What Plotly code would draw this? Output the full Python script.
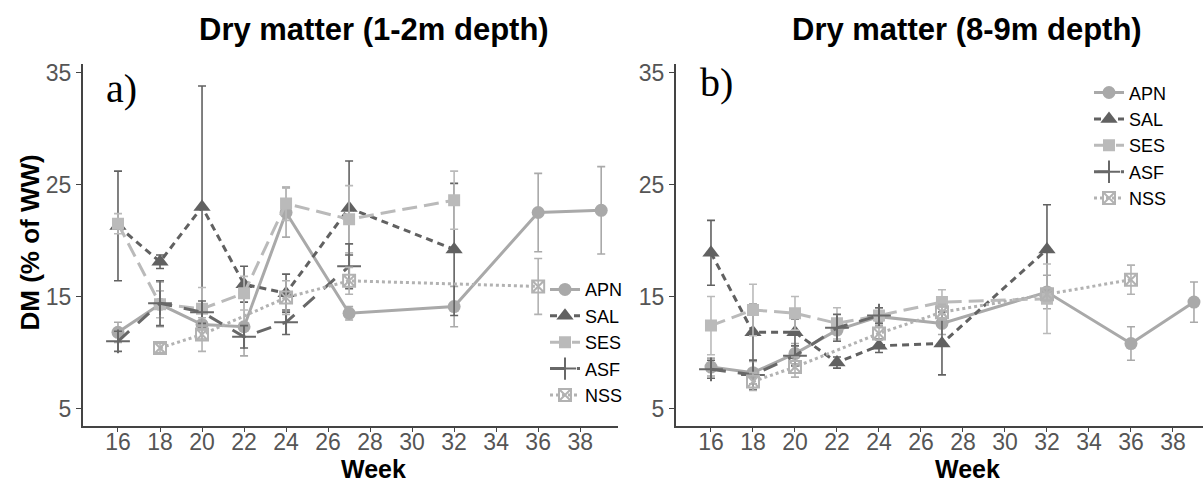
import plotly.graph_objects as go

W, H = 1203, 483

series_names = ["APN", "SAL", "SES", "ASF", "NSS"]

# ---- Panel a) 1-2 m depth ----
a_apn_wk = [16, 18, 20, 22, 24, 27, 32, 36, 39]
a_apn_val = [11.8, 14.3, 12.5, 12.3, 22.5, 13.5, 14.1, 22.5, 22.7]
a_apn_err = [0.9, 2.0, 1.3, 2.6, 2.2, 0.6, 1.8, 3.5, 3.9]

a_sal_wk = [16, 18, 20, 22, 24, 27, 32]
a_sal_val = [21.3, 18.1, 23.0, 16.1, 15.3, 22.9, 19.2]
a_sal_err = [4.9, 0.6, 10.8, 1.6, 1.7, 4.2, 5.9]

a_ses_wk = [16, 18, 20, 22, 24, 27, 32]
a_ses_val = [21.5, 14.3, 13.9, 15.3, 23.3, 21.9, 23.6]
a_ses_err = [0.9, 1.2, 1.9, 1.5, 1.5, 3.0, 2.6]

a_asf_wk = [16, 18, 20, 22, 24, 27]
a_asf_val = [11.0, 14.4, 13.6, 11.4, 12.7, 17.7]
a_asf_err = [0.9, 2.0, 1.0, 1.0, 1.1, 2.0]

a_nss_wk = [18, 20, 24, 27, 36]
a_nss_val = [10.4, 11.6, 14.9, 16.4, 15.9]
a_nss_err = [0.4, 1.5, 1.5, 1.2, 2.5]

# ---- Panel b) 8-9 m depth ----
b_apn_wk = [16, 18, 20, 22, 24, 27, 32, 36, 39]
b_apn_val = [8.7, 8.2, 9.9, 12.0, 13.2, 12.6, 15.4, 10.8, 14.5]
b_apn_err = [0.8, 1.0, 0.9, 1.0, 0.8, 1.0, 1.5, 1.5, 1.8]

b_sal_wk = [16, 18, 20, 22, 24, 27, 32]
b_sal_val = [18.9, 11.8, 11.8, 9.1, 10.6, 10.8, 19.2]
b_sal_err = [2.9, 2.5, 1.2, 0.5, 0.6, 2.8, 4.0]

b_ses_wk = [16, 18, 20, 22, 24, 27, 32]
b_ses_val = [12.4, 13.8, 13.5, 12.6, 13.3, 14.5, 14.8]
b_ses_err = [2.6, 2.3, 1.5, 1.4, 0.7, 1.1, 3.1]

b_asf_wk = [16, 18, 20, 22, 24]
b_asf_val = [8.5, 8.0, 9.7, 12.2, 13.3]
b_asf_err = [0.8, 1.3, 0.9, 1.2, 0.7]

b_nss_wk = [18, 20, 24, 27, 32, 36]
b_nss_val = [7.4, 8.7, 11.7, 13.6, 15.2, 16.5]
b_nss_err = [0.8, 0.9, 0.6, 0.7, 0.6, 1.3]

x_ticks = [16, 18, 20, 22, 24, 26, 28, 30, 32, 34, 36, 38]
y_ticks = [5, 15, 25, 35]

titles = ["Dry matter (1-2m depth)", "Dry matter (8-9m depth)"]
panel_labels = ["a)", "b)"]

styles = {
    "APN": dict(color="#a9a9a9", symbol="circle", size=13, dash="solid", lw=3),
    "SAL": dict(color="#616161", symbol="triangle-up", size=15, dash="7px,5px", lw=3),
    "SES": dict(color="#bababa", symbol="square", size=12, dash="15px,7px", lw=3),
    "ASF": dict(color="#686868", symbol="cross-thin", size=17, dash="15px,12px", lw=3),
    "NSS": dict(color="#b2b2b2", symbol="square-x-open", size=12, dash="dot", lw=3),
}

panels = [
    {"APN": (a_apn_wk, a_apn_val, a_apn_err), "SAL": (a_sal_wk, a_sal_val, a_sal_err),
     "SES": (a_ses_wk, a_ses_val, a_ses_err), "ASF": (a_asf_wk, a_asf_val, a_asf_err),
     "NSS": (a_nss_wk, a_nss_val, a_nss_err)},
    {"APN": (b_apn_wk, b_apn_val, b_apn_err), "SAL": (b_sal_wk, b_sal_val, b_sal_err),
     "SES": (b_ses_wk, b_ses_val, b_ses_err), "ASF": (b_asf_wk, b_asf_val, b_asf_err),
     "NSS": (b_nss_wk, b_nss_val, b_nss_err)},
]

fig = go.Figure()
for pi, pdata in enumerate(panels):
    xa = "x" if pi == 0 else "x2"
    ya = "y" if pi == 0 else "y2"
    lg = "legend" if pi == 0 else "legend2"
    for name in series_names:
        wk, val, err = pdata[name]
        s = styles[name]
        mk = dict(symbol=s["symbol"], size=s["size"], color=s["color"])
        if s["symbol"] in ("cross-thin", "square-x-open"):
            mk["line"] = dict(width=2, color=s["color"])
        fig.add_trace(go.Scatter(
            x=wk, y=val, name=name, mode="lines+markers",
            xaxis=xa, yaxis=ya, legend=lg,
            line=dict(color=s["color"], width=s["lw"], dash=s["dash"]),
            marker=mk,
            error_y=dict(type="data", array=err, visible=True,
                         color=s["color"], thickness=1.6, width=4),
        ))

def px_x(p):
    return p / W

def px_y(p):
    return 1 - p / H

ydom = [px_y(425), px_y(60)]
axis_common = dict(showgrid=False, zeroline=False, showline=True, linecolor="#444444",
                   linewidth=1.5, ticks="outside", ticklen=5, tickcolor="#444444",
                   tickwidth=1.2, tickfont=dict(size=23, color="#555555",
                                                family="Liberation Sans, Arial"))

fig.update_layout(
    width=W, height=H,
    margin=dict(l=0, r=0, t=0, b=0),
    paper_bgcolor="white", plot_bgcolor="white",
    font=dict(family="Liberation Sans, Arial", color="black"),
    xaxis=dict(domain=[px_x(82.7), px_x(618)], range=[14.32, 39.8], tickvals=x_ticks,
               anchor="y", ticklabelstandoff=-10, **axis_common),
    yaxis=dict(domain=ydom, range=[3.47, 35.73], tickvals=y_ticks, anchor="x",
               **axis_common),
    xaxis2=dict(domain=[px_x(675.7), 1.0], range=[14.32, 39.43], tickvals=x_ticks,
                anchor="y2", ticklabelstandoff=-10, **axis_common),
    yaxis2=dict(domain=ydom, range=[3.47, 35.73], tickvals=y_ticks, anchor="x2",
                **axis_common),
    legend=dict(x=px_x(545), y=px_y(269), xanchor="left", yanchor="top",
                font=dict(size=18, color="black"), bgcolor="rgba(0,0,0,0)",
                tracegroupgap=0, itemwidth=30),
    legend2=dict(x=px_x(1089), y=px_y(70), xanchor="left", yanchor="top",
                 font=dict(size=18, color="black"), bgcolor="rgba(0,0,0,0)",
                 tracegroupgap=0, itemwidth=30),
    showlegend=True,
)

annotations = [
    dict(text="<b>" + titles[0] + "</b>", x=px_x(374), y=px_y(25), xref="paper", yref="paper",
         showarrow=False, font=dict(size=31, color="black"), xanchor="center", yanchor="middle"),
    dict(text="<b>" + titles[1] + "</b>", x=px_x(967), y=px_y(25), xref="paper", yref="paper",
         showarrow=False, font=dict(size=31, color="black"), xanchor="center", yanchor="middle"),
    dict(text="<b>Week</b>", x=px_x(373), y=px_y(469), xref="paper", yref="paper",
         showarrow=False, font=dict(size=25, color="black"), xanchor="center", yanchor="middle"),
    dict(text="<b>Week</b>", x=px_x(967), y=px_y(469), xref="paper", yref="paper",
         showarrow=False, font=dict(size=25, color="black"), xanchor="center", yanchor="middle"),
    dict(text="<b>DM (% of WW)</b>", x=px_x(30), y=px_y(240), xref="paper", yref="paper",
         showarrow=False, font=dict(size=26, color="black"), textangle=-90,
         xanchor="center", yanchor="middle"),
    dict(text=panel_labels[0], x=px_x(104), y=px_y(84), xref="paper", yref="paper",
         showarrow=False, font=dict(size=40, color="black", family="Liberation Serif, Times New Roman"),
         xanchor="left", yanchor="middle"),
    dict(text=panel_labels[1], x=px_x(698), y=px_y(78), xref="paper", yref="paper",
         showarrow=False, font=dict(size=40, color="black", family="Liberation Serif, Times New Roman"),
         xanchor="left", yanchor="middle"),
]
fig.update_layout(annotations=annotations)

fig.write_html("out.html")
